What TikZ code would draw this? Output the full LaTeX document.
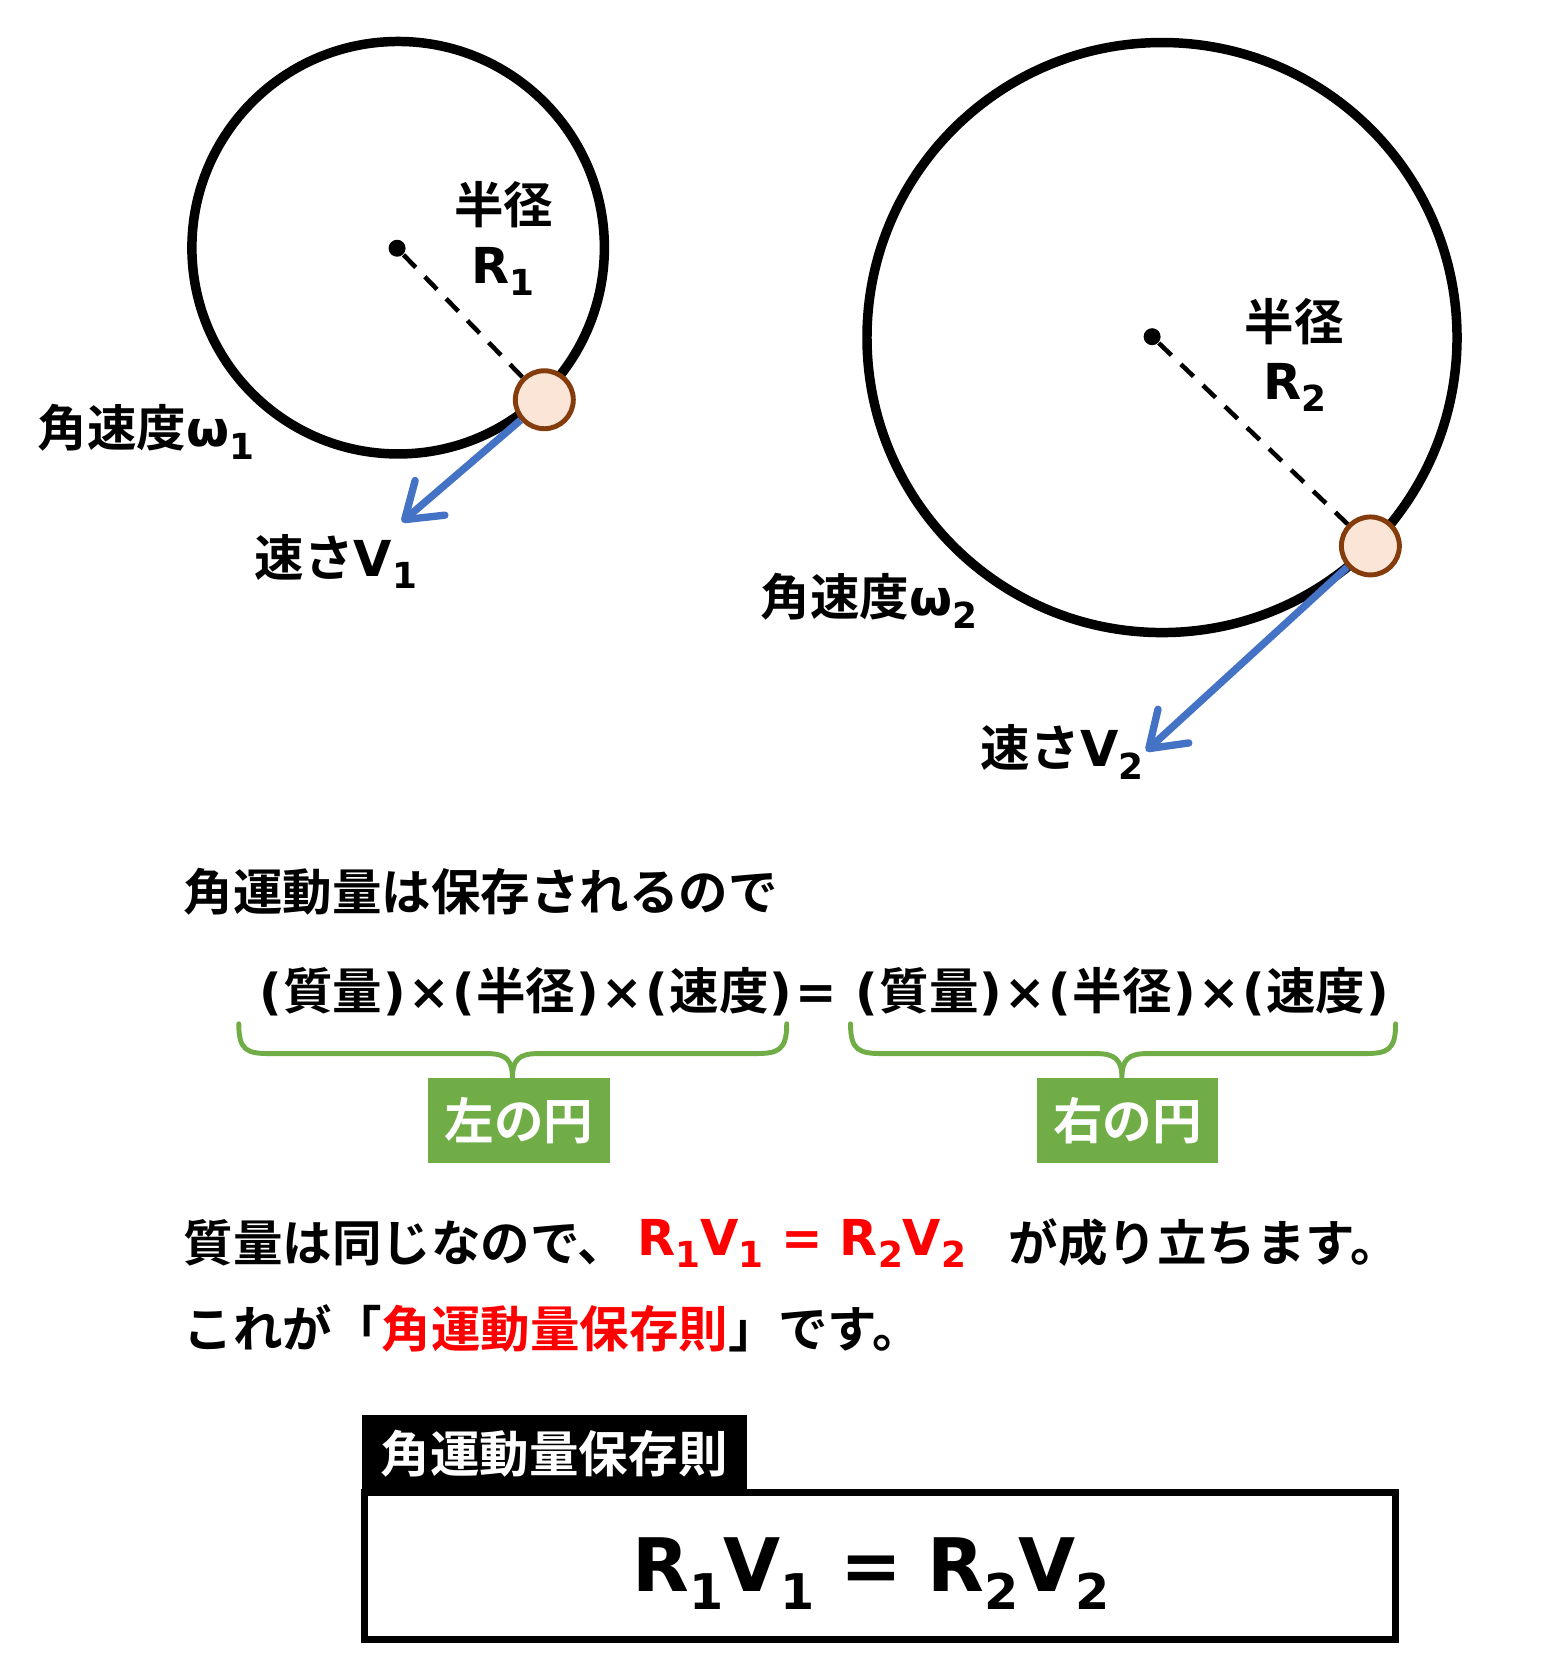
\documentclass[tikz,border=0pt]{standalone}
\usepackage{fontspec}
\setmainfont{Noto Sans CJK JP}[BoldFont={Noto Sans CJK JP Bold}]
\newfontfamily\latfont{DejaVu Sans}
\usepackage{xcolor}
\usepackage{tikz}
\usetikzlibrary{arrows.meta,positioning}

\definecolor{velblue}{HTML}{4472C4}
\definecolor{bracegreen}{HTML}{70AD47}
\definecolor{ballfill}{HTML}{FBE5D6}
\definecolor{balldraw}{HTML}{843C0C}
\definecolor{lawred}{HTML}{FF0000}

\newcommand{\jp}{\fontsize{14.1pt}{17pt}\selectfont\bfseries}
\newcommand{\bigjp}{\fontsize{21pt}{25pt}\selectfont\bfseries}
\newcommand{\sbs}[1]{\raisebox{-3.6pt}{\fontsize{10.2pt}{10pt}\selectfont #1}}
\newcommand{\bigsbs}[1]{\raisebox{-5pt}{\fontsize{14pt}{14pt}\selectfont #1}}
\newcommand{\pr}[1]{{\latfont\kern0.35pt(\kern0.35pt}#1{\latfont\kern0.35pt)\kern0.35pt}}
\newcommand{\tm}{{\latfont\kern0.35pt×\kern0.35pt}}

\begin{document}
\begin{tikzpicture}[
    x = 0.01063cm, y = -0.01063cm,
    orbit/.style={
        line width = 2.7pt, % ring
        draw = black
      },
    centre/.style={circle, fill = black, inner sep = 0pt, minimum size = 0.17cm},
    ball/.style={
        circle, % shape
        inner sep = 0pt,
        minimum size = 0.58cm, % size
        line width = 1.4pt, % border
        draw = balldraw,
        fill = ballfill % the filling
      },
    radial/.style={line width = 1.3pt, dash pattern = on 5pt off 3.7pt},
    velocity/.style={draw = velblue, line width = 2.1pt,
        -{Straight Barb[length = 9.5pt, width = 13pt, round]}},
    word/.style={inner sep = 0pt, font = \jp},
    brace/.style={draw = bracegreen, line width = 1.4pt, line cap = round},
    tag/.style={
        rectangle, % shape
        inner sep = 0pt,
        minimum width = 1.816cm, minimum height = 0.85cm, % size
        fill = bracegreen,
        text = white,
        font = \jp
      },
    header/.style={rectangle, inner sep = 0pt, fill = black, text = white,
        minimum width = 3.85cm, minimum height = 0.787cm, font = \jp},
    lawbox/.style={draw = black, line width = 2pt}
  ]
  \useasboundingbox (0,0) rectangle (1449,1568);

  % left circle
  \draw[orbit] (374.5,233) circle [radius = 194];
  \node[centre] (c1) at (373.5,233.5) {};
  \node[ball] (p1) at (512,376) {};
  \draw[radial] (c1) -- (p1);
  \coordinate (v1) at (378,491);
  \draw[velocity] (p1) -- (v1);
  \node[word, anchor = base] (r1) at (474,210) {半径};
  \node[word, anchor = base] (R1) at (473,266.4) {\latfont R\sbs{1}};
  \node[word, anchor = base west] (w1) at (35,420) {角速度{\latfont ω\sbs{1}}};
  \node[word, anchor = base west] (s1) at (239,542) {速さ{\latfont V\sbs{1}}};

  % right circle
  \draw[orbit] (1093,317.5) circle [radius = 277.5];
  \node[centre] (c2) at (1083.7,316.7) {};
  \node[ball] (p2) at (1289,513.5) {};
  \draw[radial] (c2) -- (p2);
  \coordinate (v2) at (1078,706.5);
  \draw[velocity] (p2) -- (v2);
  \node[word, anchor = base] (r2) at (1217.5,320) {半径};
  \node[word, anchor = base] (R2) at (1218,375.3) {\latfont R\sbs{2}};
  \node[word, anchor = base west] (w2) at (715,579) {角速度{\latfont ω\sbs{2}}};
  \node[word, anchor = base west] (s2) at (922,721) {速さ{\latfont V\sbs{2}}};

  % equation
  \node[word, anchor = base west] (q0) at (172,856) {角運動量は保存されるので};
  \node[word, anchor = base west] (qL) at (242,950) {\pr{質量}\tm\pr{半径}\tm\pr{速度}{\latfont\kern0.6pt=}};
  \node[word, anchor = base west] (qR) at (803,950) {\pr{質量}\tm\pr{半径}\tm\pr{速度}};

  \node[tag] (tL) at (488,1054) {左の円};
  \node[tag] (tR) at (1060.7,1054) {右の円};
  \draw[brace] (224.6,963) .. controls (224.6,988) and (232,991) .. (254,991) -- (458,991)
    .. controls (476,991) and (482,997) .. (482,1014)
    .. controls (482,997) and (488,991) .. (506,991) -- (710,991)
    .. controls (732,991) and (740,988) .. (740,963);
  \draw[brace] (800,963) .. controls (800,988) and (808,991) .. (830,991) -- (1031,991)
    .. controls (1049,991) and (1055.3,997) .. (1055.3,1014)
    .. controls (1055.3,997) and (1061,991) .. (1079,991) -- (1283,991)
    .. controls (1305,991) and (1312.7,988) .. (1312.7,963);

  \node[word, anchor = base west] (m1) at (172,1187) {質量は同じなので、};
  \node[word, anchor = base west, text = lawred] (m2) at (599,1180.6)
    {\latfont R\sbs{1}V\sbs{1} = R\sbs{2}V\sbs{2}};
  \node[word, anchor = base west] (m3) at (948,1187) {が成り立ちます。};
  \node[word, anchor = base west] (n1) at (172,1267)
    {これが「{\color{lawred}角運動量保存則}」です。};

  % law box
  \node[header, anchor = north west] (hd) at (339.6,1330) {角運動量保存則};
  \draw[lawbox] (342.4,1403.6) rectangle (1312.2,1541.9);
  \node[word, anchor = base west, font = \bigjp] (law) at (594,1497.4)
    {\latfont R\bigsbs{1}V\bigsbs{1} = R\bigsbs{2}V\bigsbs{2}};
\end{tikzpicture}
\end{document}
